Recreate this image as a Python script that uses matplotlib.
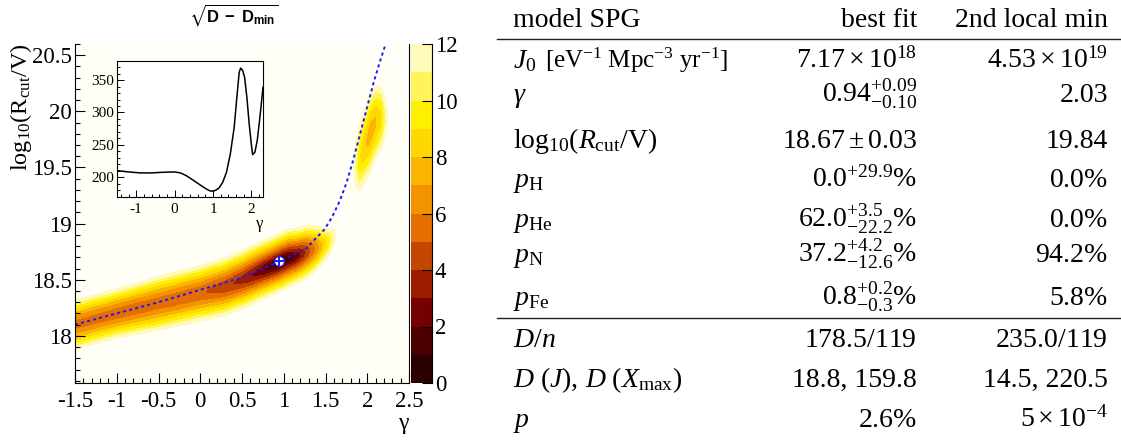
import numpy as np
import matplotlib
matplotlib.use('Agg')
import matplotlib.pyplot as plt
from matplotlib.ticker import MultipleLocator, FuncFormatter

plt.rcParams['font.family'] = ['Liberation Serif', 'DejaVu Serif']
plt.rcParams['mathtext.fontset'] = 'custom'
plt.rcParams['mathtext.rm'] = 'Liberation Serif'
plt.rcParams['mathtext.it'] = 'Liberation Serif:italic'
plt.rcParams['mathtext.bf'] = 'Liberation Sans:bold'
plt.rcParams['mathtext.sf'] = 'Liberation Sans'
plt.rcParams['mathtext.fallback'] = 'stix'
plt.rcParams['axes.unicode_minus'] = False

# ---------------- data ----------------
# inset: profile deviance D versus gamma
profile_gamma = [-1.5, -1.2, -0.9, -0.6, -0.3, 0.0, 0.15, 0.3, 0.5, 0.7, 0.85, 0.94,
                 1.05, 1.15, 1.25, 1.35, 1.45, 1.55, 1.62, 1.68, 1.72, 1.77, 1.82,
                 1.88, 1.94, 2.0, 2.03, 2.09, 2.15, 2.22, 2.3]
profile_D = [210.3, 208.2, 206.7, 206.7, 207.7, 208.2, 206.7, 202.6, 194.8, 186.6, 181.0, 178.5,
             179.4, 183.0, 192.0, 207.7, 236.0, 277.0, 323.7, 362.0, 368.6, 365.0, 354.6,
             323.7, 282.5, 249.0, 235.0, 238.7, 256.7, 292.8, 339.0]

# main map: valley of sqrt(D - Dmin)
valley_gamma = [-1.6, -1.0, -0.5, 0.0, 0.3, 0.5, 0.7, 0.85, 0.94, 1.05, 1.15, 1.25, 1.35,
                1.45, 1.55, 1.62, 1.7, 1.78, 1.84, 1.9, 1.95, 2.03, 2.1, 2.17, 2.23, 2.3]
valley_depth = [5.7, 5.4, 5.4, 5.2, 4.3, 3.6, 2.5, 1.4, 0.0, 1.0, 2.1, 3.7, 5.4,
                7.5, 9.8, 12.0, 13.5, 13.5, 12.0, 9.2, 8.3, 7.5, 7.8, 8.8, 11.5, 14.0]
valley_logR = [18.08, 18.2, 18.29, 18.38, 18.44, 18.5, 18.57, 18.62, 18.65, 18.69, 18.71, 18.74, 18.77,
               18.8, 18.84, 18.9, 19.1, 19.35, 19.5, 19.58, 19.66, 19.8, 19.9, 19.94, 19.95, 19.96]
valley_scale = [0.021, 0.0205, 0.0225, 0.023, 0.023, 0.023, 0.0225, 0.022, 0.022, 0.022, 0.021, 0.021, 0.02,
                0.018, 0.0165, 0.0165, 0.025, 0.035, 0.037, 0.037, 0.037, 0.038, 0.036, 0.033, 0.032, 0.032]

# dashed blue curve
curve_gamma = [-1.5, -1.0, -0.5, 0.0, 0.5, 0.94, 1.27, 1.49, 1.58, 1.67, 1.75, 1.83, 1.95, 2.07, 2.15, 2.22]
curve_logR = [18.10, 18.20, 18.30, 18.41, 18.52, 18.66, 18.78, 18.95, 19.06, 19.2, 19.36, 19.56, 19.9, 20.24, 20.44, 20.6]

best_gamma, best_logR = 0.94, 18.67

level_values = list(range(0, 13))
level_colors = ['#2a0000', '#4a0000', '#740000', '#9c1c00', '#c24600', '#e56e00',
                '#f39300', '#fab500', '#fed800', '#fff000', '#fff55a', '#fffab8']

# table
table_header = ['model SPG', 'best fit', '2nd local min']
table_labels = [r'$J_0$', r'$\gamma$', r'$\mathrm{log}_{10}(R_\mathrm{cut}/\mathrm{V})$',
                r'$p_\mathrm{H}$', r'$p_\mathrm{He}$', r'$p_\mathrm{N}$', r'$p_\mathrm{Fe}$',
                r'$D/n$', r'$D\ (J),\, D\ (X_\mathrm{max})$', r'$p$']
table_best = [r'$7.17\times10^{18}$', r'$0.94^{+0.09}_{-0.10}$', r'$18.67\pm0.03$',
              r'$0.0^{+29.9}\%$', r'$62.0^{+3.5}_{-22.2}\%$', r'$37.2^{+4.2}_{-12.6}\%$',
              r'$0.8^{+0.2}_{-0.3}\%$', r'$178.5/119$', '18.8, 159.8', r'$2.6\%$']
table_second = [r'$4.53\times10^{19}$', '2.03', '19.84', r'$0.0\%$', r'$0.0\%$', r'$94.2\%$',
                r'$5.8\%$', r'$235.0/119$', '14.5, 220.5', r'$5\times10^{-4}$']
J0_unit = r'$[\mathrm{eV^{-1}\ Mpc^{-3}\ yr^{-1}}]$'

# ---------------- figure ----------------
W, H = 1121, 441
fig = plt.figure(figsize=(W / 100, H / 100), dpi=100)

def fx(x):
    return x / W

def fy(y):
    return 1 - y / H

# main map axes
ax = fig.add_axes([fx(75), fy(383), fx(334), (383 - 44) / H])
ax.set_facecolor('#fffff7')
g = np.linspace(-1.5, 2.5, 1001)
r = np.linspace(17.58, 20.6, 1201)
G, R = np.meshgrid(g, r)
v0 = np.interp(G, valley_gamma, valley_depth)
yc = np.interp(G, valley_gamma, valley_logR)
sc = np.interp(G, valley_gamma, valley_scale)
Z = np.sqrt(v0 ** 2 + ((R - yc) / sc) ** 2)
cs = ax.contourf(G, R, Z, levels=level_values, colors=level_colors)

ax.plot(curve_gamma, curve_logR, color='#1a1aff', lw=1.4, ls=(0, (1.6, 1.6)))
ax.plot([best_gamma], [best_logR], 'o', ms=7, mfc='white', mec='#1a1aff', mew=0.6)
ax.plot([best_gamma], [best_logR], '+', ms=7, mec='#1a1aff', mew=1.4)

ax.set_xlim(-1.5, 2.5)
ax.set_ylim(17.58, 20.6)
ax.xaxis.set_major_locator(MultipleLocator(0.5))
ax.xaxis.set_minor_locator(MultipleLocator(0.1))
ax.yaxis.set_major_locator(MultipleLocator(0.5))
ax.yaxis.set_minor_locator(MultipleLocator(0.1))
fmt = FuncFormatter(lambda v, p: '%g' % round(v, 2))
ax.xaxis.set_major_formatter(fmt)
ax.yaxis.set_major_formatter(fmt)
ax.tick_params(which='both', direction='in', top=False, right=False, width=0.8)
ax.tick_params(which='major', length=7.5, labelsize=16.5)
ax.tick_params(which='minor', length=3.8)
ax.tick_params(axis='x', pad=6)
ax.tick_params(axis='y', pad=2)
ax.spines['top'].set_visible(False)
for s in ['left', 'bottom', 'right']:
    ax.spines[s].set_linewidth(0.8)

fig.text(fx(408), fy(423), 'γ', ha='right', va='center', fontsize=17)
fig.text(fx(21), fy(43), r'$\mathrm{log_{10}(R_{cut}/V)}$', rotation=90,
         ha='center', va='top', fontsize=17.5)
fig.text(fx(234), fy(15), r'$\sqrt{\mathbf{D\ -\ D_{min}}}$', ha='center', va='center',
         fontsize=12)

# colorbar
cax = fig.add_axes([fx(411), fy(383), fx(21), (383 - 44) / H])
cb = fig.colorbar(cs, cax=cax, ticks=list(range(0, 13, 2)))
cb.outline.set_visible(False)
cax.plot([1, 1], [0, 1], transform=cax.transAxes, color='k', lw=0.8, clip_on=False)
cax.yaxis.set_ticks_position('right')
cax.tick_params(direction='in', length=7.5, width=0.8, labelsize=16.5, pad=2)
cax.set_yticklabels([str(v) for v in range(0, 13, 2)])
cax.minorticks_off()

# inset
axi = fig.add_axes([fx(117), fy(197), fx(146), (197 - 61) / H])
axi.set_facecolor('white')
axi.plot(profile_gamma, profile_D, color='k', lw=1.1)
axi.set_xlim(-1.5, 2.3)
axi.set_ylim(169.5, 379.5)
axi.xaxis.set_major_locator(MultipleLocator(1))
axi.xaxis.set_minor_locator(MultipleLocator(0.2))
axi.yaxis.set_major_locator(MultipleLocator(50))
axi.yaxis.set_minor_locator(MultipleLocator(10))
axi.xaxis.set_major_formatter(fmt)
axi.tick_params(which='both', direction='in', top=False, right=False, width=0.7, labelsize=11)
axi.tick_params(which='major', length=5)
axi.tick_params(which='minor', length=2.5)
axi.tick_params(axis='x', pad=4)
axi.tick_params(axis='y', pad=2)
for s in axi.spines.values():
    s.set_linewidth(0.8)
fig.text(fx(263), fy(224), 'γ', ha='right', va='center', fontsize=12)

# table
fs = 20
col_left, col_mid, col_right = 513, 917, 1108
header_base = 27
row_base = [68, 102, 148, 187, 227, 262, 305, 347, 387, 427]
fig.text(fx(col_left), fy(header_base), table_header[0], ha='left', va='baseline', fontsize=fs)
fig.text(fx(col_mid), fy(header_base), table_header[1], ha='right', va='baseline', fontsize=fs)
fig.text(fx(col_right), fy(header_base), table_header[2], ha='right', va='baseline', fontsize=fs)
for i, yb in enumerate(row_base):
    fig.text(fx(col_left), fy(yb), table_labels[i], ha='left', va='baseline', fontsize=fs)
    fig.text(fx(col_mid), fy(yb), table_best[i], ha='right', va='baseline', fontsize=fs)
    fig.text(fx(col_right), fy(yb), table_second[i], ha='right', va='baseline', fontsize=fs)
fig.text(fx(545), fy(row_base[0]), J0_unit, ha='left', va='baseline', fontsize=18)

for yr in [39, 318]:
    fig.add_artist(plt.Line2D([fx(497), 1.0], [fy(yr), fy(yr)], color='#222222', lw=1.0))

fig.savefig('out.png', dpi=100)
